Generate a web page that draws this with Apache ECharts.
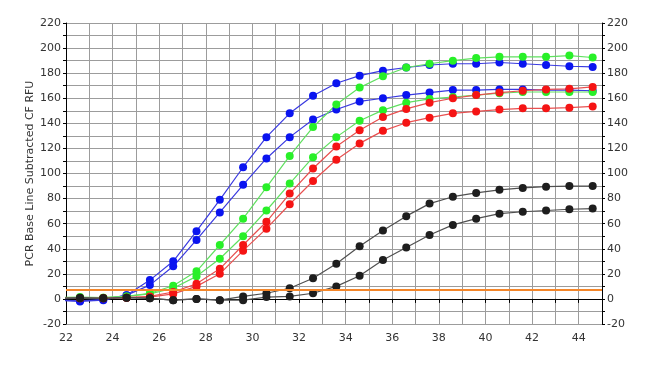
<!DOCTYPE html>
<html>
<head>
<meta charset="utf-8">
<script src="https://cdn.jsdelivr.net/npm/echarts@6/dist/echarts.min.js"></script>
<style>
html,body{margin:0;padding:0;background:#fff;}
#chart{width:645px;height:366px;}
</style>
</head>
<body>
<div id="chart"></div>
<script>
var cycles = [21.6,22.6,23.6,24.6,25.6,26.6,27.6,28.6,29.6,30.6,31.6,32.6,33.6,34.6,35.6,36.6,37.6,38.6,39.6,40.6,41.6,42.6,43.6,44.6];
var blue1  = [-1,-2,-1,3,15,30,54,79,105,129,148,162,172,178,182,184.5,186.5,187.5,187.5,188.5,187.5,186.5,185.5,185];
var blue2  = [-1,-1.5,-0.5,3,11,26,47,69,91,112,129,143,151,157.5,160,162.5,164.5,166.5,166.5,167,167,166.5,166.5,166];
var green1 = [1,1.5,1,2,4.5,10.5,22,43,64,89,114,137,155,168.5,177.5,184.5,187.5,190,192,193,193,193,194,192.5];
var green2 = [1,1,1,2,4,8.5,18,32,50,70.5,92,113,129,142,150.5,156.5,159.5,161,162.5,164,165,165,165,165];
var red1   = [0.5,0.5,0.5,1,2,5.5,12,24,43,61.5,84,104,121.5,134.5,145,151.5,156.5,160,162.5,164.5,166,167,167.5,169];
var red2   = [0.5,0.5,0.5,1,1.5,4,10,20,38.5,56,75.5,94,111,124,134,140.5,144.5,148,149.5,151,152,152,152.5,153.5];
var black1 = [0.5,1,0.5,1,0.5,-1,0,-1,2,4.5,8.5,16.5,28,42,54.5,66,76,81.5,84.5,87,88.5,89.5,90,90];
var black2 = [0.5,0.5,0.5,1,0.5,-1,0,-1,-1,1.5,2,4.5,10,18.5,31,41,51,59,64,68,69.5,70.5,71.5,72];
var threshold = 7;
var xTicks = [22,24,26,28,30,32,34,36,38,40,42,44];
var yTicks = [-20,0,20,40,60,80,100,120,140,160,180,200,220];

function pts(arr){ return cycles.map(function(c,i){ return [c, arr[i]]; }); }
function mk(name, arr, color, lineColor){
  return {
    name: name, type: 'line', data: pts(arr), clip: true,
    symbol: 'circle', symbolSize: 8,
    itemStyle: {color: color},
    lineStyle: {color: lineColor, width: 1.2},
    emphasis: {disabled: true}, z: 3
  };
}
var series = [
  mk('B1', blue1, '#0a14f0', '#3a3ae0'),
  mk('B2', blue2, '#0a14f0', '#3a3ae0'),
  mk('G1', green1, '#28f028', '#60e060'),
  mk('G2', green2, '#28f028', '#60e060'),
  mk('R1', red1, '#f51414', '#e85050'),
  mk('R2', red2, '#f51414', '#e85050'),
  mk('K1', black1, '#1e1e1e', '#505050'),
  mk('K2', black2, '#1e1e1e', '#505050')
];
series[0].markLine = {
  silent: true, symbol: 'none', label: {show: false},
  lineStyle: {color: '#f5872a', width: 2, type: 'solid'},
  data: [{yAxis: threshold}]
};

var labelStyle = {color: '#333', fontFamily: 'DejaVu Sans', fontSize: 11};
var chart = echarts.init(document.getElementById('chart'));
chart.setOption({
  animation: false,
  backgroundColor: '#fff',
  grid: {left: 66, right: 43, top: 23, bottom: 42},
  xAxis: {
    type: 'value', min: 22, max: 45, interval: 1,
    axisLine: {show: true, lineStyle: {color: '#000', width: 1}},
    axisTick: {show: true, inside: false, length: 4, lineStyle: {color: '#000'}},
    axisLabel: Object.assign({margin: 9, formatter: function(v){ return xTicks.indexOf(v) >= 0 ? String(v) : ''; }}, labelStyle),
    splitLine: {show: true, lineStyle: {color: '#9c9c9c', width: 1}}
  },
  yAxis: [{
    type: 'value', min: -20, max: 220, interval: 10, position: 'left',
    name: 'PCR Base Line Subtracted CF RFU', nameLocation: 'middle', nameGap: 30,
    nameMoveOverlap: false,
    nameTextStyle: {color: '#333', fontFamily: 'DejaVu Sans', fontSize: 11},
    axisLine: {show: true, lineStyle: {color: '#000', width: 1}},
    axisTick: {show: true, length: 3, lineStyle: {color: '#000'}},
    axisLabel: Object.assign({margin: 5, formatter: function(v){ return yTicks.indexOf(v) >= 0 ? String(v) : ''; }}, labelStyle),
    splitLine: {show: true, lineStyle: {color: '#9c9c9c', width: 1}}
  }, {
    type: 'value', min: -20, max: 220, interval: 10, position: 'right',
    axisLine: {show: true, lineStyle: {color: '#000', width: 1}},
    axisTick: {show: true, length: 3, lineStyle: {color: '#000'}},
    axisLabel: Object.assign({margin: 5, formatter: function(v){ return yTicks.indexOf(v) >= 0 ? String(v) : ''; }}, labelStyle),
    splitLine: {show: false}
  }],
  series: series
});
</script>
</body>
</html>
